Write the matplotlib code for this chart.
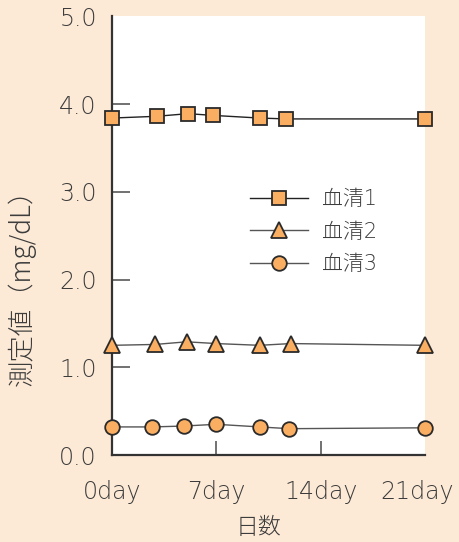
import matplotlib
matplotlib.use("Agg")
import matplotlib.pyplot as plt
import matplotlib.transforms as mtrans

plt.rcParams['font.family'] = ['DejaVu Sans', 'Noto Sans CJK JP']

# data (days, mg/dL)
x1 = [0, 3.0, 5.1, 6.8, 9.9, 11.7, 21]
y1 = [3.84, 3.86, 3.89, 3.87, 3.84, 3.83, 3.83]
x2 = [0, 2.9, 5.0, 7.0, 9.9, 12.0, 21]
y2 = [1.25, 1.26, 1.29, 1.27, 1.25, 1.27, 1.25]
x3 = [0, 2.7, 4.8, 7.0, 9.9, 11.9, 21]
y3 = [0.32, 0.32, 0.33, 0.35, 0.32, 0.30, 0.31]
labels = ["血清1", "血清2", "血清3"]
xticks = [0, 7, 14, 21]
xticklabels = ["0day", "7day", "14day", "21day"]
yticks = [0, 1, 2, 3, 4, 5]

bg = "#fdead6"
face = "#f9ae62"
edge = "#2a2a2a"
txt = "#3c3c3c"
cjk = ['Noto Sans CJK JP', 'DejaVu Sans']

fig = plt.figure(figsize=(4.59, 5.42), dpi=100, facecolor=bg)
ax = fig.add_axes([0.244, 0.1605, 0.682, 0.8095])
ax.set_facecolor("white")

ax.plot(x1, y1, color="#222222", lw=1.0, marker="s", ms=10.5,
        mfc=face, mec=edge, mew=1.3, label=labels[0], clip_on=False, zorder=3)
ax.plot(x2, y2, color="#555555", lw=1.0, marker="^", ms=12,
        mfc=face, mec=edge, mew=1.3, label=labels[1], clip_on=False, zorder=3)
ax.plot(x3, y3, color="#555555", lw=1.0, marker="o", ms=10.5,
        mfc=face, mec=edge, mew=1.3, label=labels[2], clip_on=False, zorder=3)

ax.set_xlim(0, 21)
ax.set_ylim(0, 5)

for s in ["top", "right"]:
    ax.spines[s].set_visible(False)
for s in ["left", "bottom"]:
    ax.spines[s].set_color("#333333")
    ax.spines[s].set_linewidth(1.6)

ax.set_xticks(xticks)
ax.set_xticklabels(xticklabels, fontweight="light")
ax.set_yticks(yticks)
ax.set_yticklabels(["%.1f" % v for v in yticks], fontweight="light")
ax.tick_params(axis="y", direction="in", length=13, width=1.3, color="#666666",
               labelsize=17, labelcolor=txt, pad=11)
ax.tick_params(axis="x", direction="in", length=10, width=1.3, color="#666666",
               labelsize=17, labelcolor=txt, pad=18)
# hide tick marks sitting on the edges
ax.yaxis.get_major_ticks()[0].tick1line.set_visible(False)
ax.yaxis.get_major_ticks()[-1].tick1line.set_visible(False)
ax.xaxis.get_major_ticks()[0].tick1line.set_visible(False)
ax.xaxis.get_major_ticks()[-1].tick1line.set_visible(False)
# pull "21day" a little left so it stays inside the figure
lab = ax.xaxis.get_major_ticks()[-1].label1
lab.set_transform(lab.get_transform() + mtrans.ScaledTranslation(-8 / 100, 0, fig.dpi_scale_trans))

fig.text(258 / 459, 1 - 527 / 542, "日数", fontsize=16.5, color=txt,
         ha="center", va="center", family=cjk, fontweight="light")
fig.text(22 / 459, 1 - 281 / 542, "測定値（mg/dL）", fontsize=19, color=txt,
         ha="center", va="center", rotation=90, family=cjk, fontweight="light")

leg = ax.legend(loc="upper left", bbox_to_anchor=(0.441, 0.606), frameon=False,
                prop={"size": 15, "weight": "light"}, handlelength=2.8,
                handletextpad=0.65, labelspacing=0.6,
                borderpad=0, borderaxespad=0, labelcolor=txt)

fig.savefig("out.png", dpi=100, facecolor=bg)
